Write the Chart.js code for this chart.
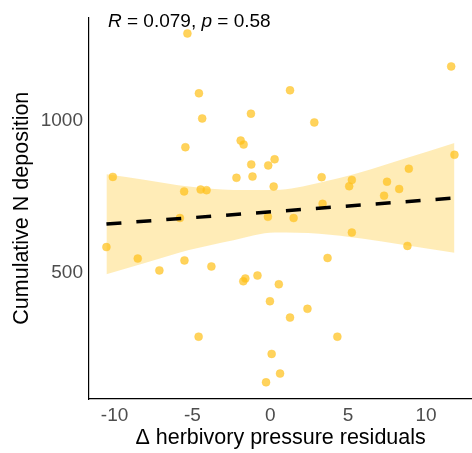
<!DOCTYPE html>
<html>
<head>
<meta charset="utf-8">
<script src="https://cdn.jsdelivr.net/npm/chart.js@4/dist/chart.umd.min.js"></script>
<style>
  html, body { margin: 0; padding: 0; background: #ffffff; overflow: hidden; }
  #wrap { width: 472px; height: 453px; overflow: hidden; }
</style>
</head>
<body>
<div id="wrap"><canvas id="c" width="477" height="453"></canvas></div>
<script>
// Site-level observations: change in herbivory pressure (residuals) vs. cumulative N deposition
const herbivoryResid = [-5.32, -4.58, -4.37, -1.24, -5.45, -1.90, -1.71, -1.22, -0.13, 0.28,
  -10.11, -2.17, -1.14, 0.22, -5.53, -4.47, -4.09, 1.27, 2.83, 11.62,
  11.83, 3.30, 5.24, 5.07, 7.50, 8.28, 8.90, 7.31, 3.36, -5.80,
  -0.15, -10.52, -8.51, -7.12, -5.51, -3.78, -1.73, -1.60, -0.82, 0.55,
  -0.02, -4.60, 0.09, 0.63, -0.27, 1.50, 5.24, 8.81, 3.68, 2.39,
  1.27, 4.31];
const nDeposition = [1290, 1092, 1009, 1025, 914, 936, 923, 857, 854, 874,
  816, 813, 817, 784, 768, 774, 772, 1102, 996, 1181,
  889, 815, 806, 785, 800, 776, 843, 754, 727, 680,
  684, 584, 546, 507, 540, 520, 471, 480, 490, 461,
  405, 288, 231, 166, 137, 680, 632, 588, 548, 380,
  351, 288];

// Linear fit and its 95% confidence band
const fitX = [-10.52, 11.83];
const fitY = [660, 746];
const bandX = [-10.52, -8, -5.22, -2.36, 0.3, 3.15, 5.87, 8.5, 11.83];
const bandLower = [494, 532, 574, 607, 632, 628, 612, 592, 565];
const bandUpper = [825, 806, 784, 773, 773, 797, 832, 874, 928];

// Axis ticks and annotation
const xTicks = [-10, -5, 0, 5, 10];
const yTicks = [500, 1000];
const corParts = [['R', true], [' = 0.079, ', false], ['p', true], [' = 0.58', false]];

const FAMILY = '"Liberation Sans", Arial, Helvetica, sans-serif';
const pts = (xs, ys) => xs.map((x, i) => ({ x: x, y: ys[i] }));

const corLabel = {
  id: 'corLabel',
  afterDatasetsDraw(chart) {
    const ctx = chart.ctx;
    ctx.save();
    ctx.textBaseline = 'middle';
    ctx.textAlign = 'left';
    ctx.fillStyle = '#000000';
    let x = 108;
    const y = 22;
    for (const [txt, italic] of corParts) {
      ctx.font = (italic ? 'italic ' : '') + '19px ' + FAMILY;
      ctx.fillText(txt, x, y);
      x += ctx.measureText(txt).width;
    }
    ctx.restore();
  }
};

new Chart(document.getElementById('c'), {
  type: 'scatter',
  data: {
    datasets: [
      {
        type: 'line',
        data: pts(bandX, bandLower),
        borderWidth: 0,
        pointRadius: 0,
        fill: false,
        cubicInterpolationMode: 'monotone',
        order: 4
      },
      {
        type: 'line',
        data: pts(bandX, bandUpper),
        borderWidth: 0,
        pointRadius: 0,
        backgroundColor: 'rgba(255, 196, 30, 0.32)',
        fill: '-1',
        cubicInterpolationMode: 'monotone',
        order: 3
      },
      {
        type: 'scatter',
        data: pts(herbivoryResid, nDeposition),
        pointRadius: 4,
        pointBackgroundColor: 'rgba(255, 190, 15, 0.68)',
        pointBorderColor: 'rgba(255, 200, 60, 0.5)',
        pointBorderWidth: 0.8,
        order: 2
      },
      {
        type: 'line',
        data: pts(fitX, fitY),
        borderColor: '#000000',
        borderWidth: 3.5,
        borderDash: [15, 15],
        pointRadius: 0,
        fill: false,
        order: 1
      }
    ]
  },
  options: {
    responsive: false,
    devicePixelRatio: 1,
    animation: false,
    layout: { padding: { top: 13, right: 0, bottom: 0, left: 0 } },
    plugins: { legend: { display: false }, tooltip: { enabled: false } },
    scales: {
      x: {
        type: 'linear',
        min: -11.64,
        max: 12.97,
        afterBuildTicks: s => { s.ticks = xTicks.map(v => ({ value: v })); },
        afterFit: s => { s.height = 54; },
        grid: { display: false, drawTicks: false },
        border: { display: true, color: '#000000', width: 1.2 },
        ticks: { color: '#4d4d4d', font: { size: 19, family: FAMILY }, padding: 5, maxRotation: 0,
                 callback: v => String(v) },
        title: {
          display: true,
          text: 'Δ herbivory pressure residuals',
          color: '#000000',
          font: { size: 21.5, family: FAMILY },
          padding: { top: 0, bottom: 2 }
        }
      },
      y: {
        type: 'linear',
        min: 82,
        max: 1343,
        afterBuildTicks: s => { s.ticks = yTicks.map(v => ({ value: v })); },
        afterFit: s => { s.width = 89; },
        grid: { display: false, drawTicks: false },
        border: { display: true, color: '#000000', width: 1.2 },
        ticks: { color: '#4d4d4d', font: { size: 19, family: FAMILY }, padding: 6,
                 callback: v => String(v) },
        title: {
          display: true,
          text: 'Cumulative N deposition',
          color: '#000000',
          font: { size: 21.5, family: FAMILY },
          padding: { top: 9.6, bottom: 0 }
        }
      }
    }
  },
  plugins: [corLabel]
});
</script>
</body>
</html>
